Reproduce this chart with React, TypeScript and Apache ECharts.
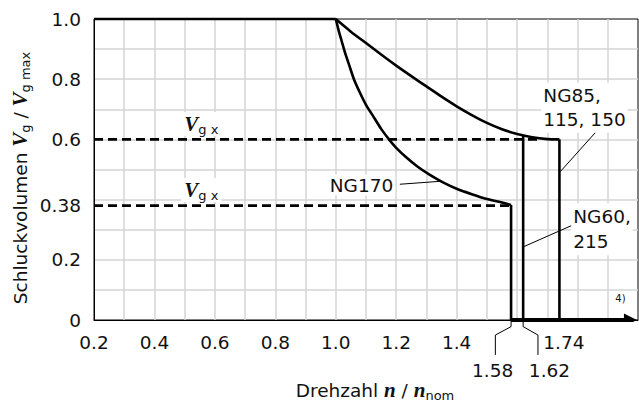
import React, { useEffect, useRef } from "react";
import * as echarts from "echarts";

// ---- data (n / n_nom , Vg / Vg max) ----
const upperCurveN = [1.0, 1.05, 1.1, 1.15, 1.2, 1.25, 1.3, 1.35, 1.4, 1.45, 1.5, 1.55, 1.6, 1.65, 1.7, 1.74];
const upperCurveV = [1.0, 0.958, 0.92, 0.882, 0.845, 0.81, 0.776, 0.742, 0.71, 0.681, 0.655, 0.634, 0.618, 0.607, 0.601, 0.6];
const lowerCurveN = [1.0, 1.01, 1.02, 1.03, 1.045, 1.06, 1.08, 1.1, 1.125, 1.15, 1.18, 1.2, 1.23, 1.27, 1.31, 1.35, 1.4, 1.45, 1.5, 1.55, 1.58];
const lowerCurveV = [1.0, 0.96, 0.925, 0.89, 0.845, 0.8, 0.755, 0.715, 0.675, 0.635, 0.595, 0.572, 0.543, 0.51, 0.483, 0.46, 0.436, 0.418, 0.402, 0.39, 0.382];
const flatN = [0.2, 1.0];
const flatV = [1.0, 1.0];
const dropNG170 = [1.58, 0.382];
const dropNG60 = [1.62, 0.614];
const dropNG85 = [1.74, 0.6];
const vgxLevels = [0.6, 0.38];
const vgxStartN = 0.2;
const vgxEndN = [1.68, 1.58];
const xTickValues = [0.2, 0.4, 0.6, 0.8, 1.0, 1.2, 1.4, 1.74];
const xTickLabels = ["0.2", "0.4", "0.6", "0.8", "1.0", "1.2", "1.4", "1.74"];
const yTickValues = [0, 0.2, 0.38, 0.6, 0.8, 1.0];
const yTickLabels = ["0", "0.2", "0.38", "0.6", "0.8", "1.0"];
const cutoffLabels = ["1.58", "1.62"];
const arrowN = [1.58, 1.975];

// ---- annotation anchors (data coordinates) ----
const ANN_NG85_TEXT = [1.68, 0.705];
const ANN_NG85_LEADER = [[1.862, 0.626], [1.743, 0.493]];
const ANN_NG170_TEXT = [1.085, 0.4485];
const ANN_NG170_LEADER = [[1.212, 0.451], [1.349, 0.461]];
const ANN_NG60_TEXT = [1.779, 0.3017];
const ANN_NG60_LEADER = [[1.7845, 0.3156], [1.6215, 0.2435]];
const ANN_VGX_TEXT = [[0.555, 0.651], [0.555, 0.432]];
const ANN_NOTE4 = [1.942, 0.07];
const ANN_BRACKETS = [
  [[1.58, 0], [1.58, -0.022], [1.528, -0.05], [1.528, -0.116]],
  [[1.62, 0], [1.62, -0.022], [1.669, -0.05], [1.669, -0.116]],
];
const ANN_CUTOFF_TEXT = [[1.519, -0.169], [1.707, -0.169]];

const SANS = "DejaVu Sans";
const SERIF = "Liberation Serif";
const FS = 18.5;
const INK = "#111";

const zip = (a: number[], b: number[]) => a.map((v, i) => [v, b[i]]);

function lineSeries(data: number[][], extra: any = {}) {
  return {
    type: "line",
    data,
    symbol: "none",
    clip: false,
    silent: true,
    lineStyle: { color: "#000", width: 2.6 },
    ...extra,
  };
}

export default function App() {
  const ref = useRef<HTMLDivElement>(null);
  useEffect(() => {
    const chart = echarts.init(ref.current!, null, { renderer: "svg" });
    const option: any = {
      animation: false,
      grid: {
        left: 94,
        top: 19,
        width: 544,
        height: 301,
        show: true,
        borderColor: "#000",
        borderWidth: 1,
        backgroundColor: "transparent",
      },
      xAxis: {
        type: "value",
        min: 0.2,
        max: 2.0,
        interval: 0.1,
        axisLine: { show: true, lineStyle: { color: "#000", width: 1 } },
        axisTick: { show: false },
        splitLine: {
          show: true,
          showMinLine: false,
          showMaxLine: false,
          lineStyle: { color: "#d4d4d4", width: 1.5 },
        },
        axisLabel: {
          customValues: xTickValues,
          margin: 13,
          fontFamily: SANS,
          fontSize: FS,
          color: INK,
          formatter: (v: number) => {
            const i = xTickValues.findIndex((t) => Math.abs(t - v) < 1e-6);
            const s = i >= 0 ? xTickLabels[i] : "";
            return i === xTickValues.length - 1 ? "{r|" + s + "}" : s;
          },
          rich: { r: { fontFamily: SANS, fontSize: FS, color: INK, padding: [0, 0, 0, 9] } },
        },
      },
      yAxis: {
        type: "value",
        min: 0,
        max: 1.0,
        interval: 0.1,
        axisLine: { show: true, lineStyle: { color: "#000", width: 1 } },
        axisTick: { show: false },
        splitLine: {
          show: true,
          showMinLine: false,
          showMaxLine: false,
          lineStyle: { color: "#d4d4d4", width: 1.5 },
        },
        axisLabel: {
          customValues: yTickValues,
          margin: 13,
          fontFamily: SANS,
          fontSize: FS,
          color: INK,
          formatter: (v: number) => {
            const i = yTickValues.findIndex((t) => Math.abs(t - v) < 1e-6);
            return i >= 0 ? yTickLabels[i] : "";
          },
        },
      },
      series: [
        ...vgxLevels.map((lv, i) =>
          lineSeries([[vgxStartN, lv], [vgxEndN[i], lv]], {
            lineStyle: { color: "#000", width: 2.6, type: [9, 5] },
            z: 3,
          })
        ),
        lineSeries(zip(flatN, flatV), { z: 4 }),
        lineSeries(zip(upperCurveN, upperCurveV), { smooth: 0.2, z: 4 }),
        lineSeries([dropNG85, [dropNG85[0], 0]], { z: 4 }),
        lineSeries([dropNG60, [dropNG60[0], 0]], { z: 4 }),
        lineSeries(zip(lowerCurveN, lowerCurveV), { smooth: 0.2, z: 4 }),
        lineSeries([dropNG170, [dropNG170[0], 0]], { z: 4 }),
        {
          type: "lines",
          coordinateSystem: "cartesian2d",
          silent: true,
          z: 5,
          symbol: ["none", "triangle"],
          symbolSize: [0, 13],
          lineStyle: { color: "#000", width: 4, opacity: 1 },
          itemStyle: { color: "#000" },
          data: [{ coords: [[arrowN[0], 0], [arrowN[1], 0]] }],
        },
        lineSeries(ANN_NG85_LEADER, { lineStyle: { color: "#000", width: 1 } }),
        lineSeries(ANN_NG170_LEADER, { lineStyle: { color: "#000", width: 1 } }),
        lineSeries(ANN_NG60_LEADER, { lineStyle: { color: "#000", width: 1 } }),
        ...ANN_BRACKETS.map((b) => lineSeries(b, { lineStyle: { color: "#000", width: 1 } })),
      ],
    };
    chart.setOption(option);

    const px = (p: number[]) => chart.convertToPixel({ gridIndex: 0 }, p) as number[];
    const txt = (p: number[], text: string, style: any = {}) => {
      const [x, y] = px(p);
      return {
        type: "text",
        x,
        y,
        z: 100,
        style: {
          text,
          fontFamily: SANS,
          fontSize: FS,
          fill: INK,
          align: "center",
          verticalAlign: "middle",
          ...style,
        },
      };
    };
    const vRich = {
      v: { fontFamily: SERIF, fontStyle: "italic", fontWeight: "bold", fontSize: 21, lineHeight: 24, fill: INK },
      s: { fontFamily: SANS, fontSize: FS, lineHeight: 24, fill: INK },
      sb: { fontFamily: SANS, fontSize: 13, lineHeight: 14, verticalAlign: "bottom", fill: INK },
    };
    const graphic: any[] = [
      txt(ANN_NG85_TEXT, "NG85,\n115, 150", { align: "left", lineHeight: 24, backgroundColor: "#fff", padding: [1, 2] }),
      txt(ANN_NG170_TEXT, "NG170", { backgroundColor: "#fff", padding: [1, 2] }),
      txt(ANN_NG60_TEXT, "NG60,\n215", { align: "left", lineHeight: 25, backgroundColor: "#fff", padding: [1, 2] }),
      ...ANN_VGX_TEXT.map((p) =>
        txt(p, "{v|V}{sb|g x}", { rich: vRich, backgroundColor: "#fff", padding: [0, 3] })
      ),
      txt(ANN_NOTE4, "4)", { fontSize: 10 }),
      ...ANN_CUTOFF_TEXT.map((p, i) => txt(p, cutoffLabels[i])),
      {
        type: "text",
        x: 20,
        y: 178,
        rotation: Math.PI / 2,
        z: 100,
        style: {
          text: "{s|Schluckvolumen }{v|V}{sb|g}{s| / }{v|V}{sb|g max}",
          rich: vRich,
          align: "center",
          verticalAlign: "middle",
        },
      },
      {
        type: "text",
        x: 375,
        y: 390,
        z: 100,
        style: {
          text: "{s|Drehzahl }{v|n}{s| / }{v|n}{sb|nom}",
          rich: vRich,
          align: "center",
          verticalAlign: "middle",
        },
      },
    ];
    chart.setOption({ graphic });
    return () => chart.dispose();
  }, []);
  return (
    <div
      ref={ref}
      style={{ position: "absolute", left: 0, top: 0, width: 639, height: 407, background: "#fff" }}
    />
  );
}
